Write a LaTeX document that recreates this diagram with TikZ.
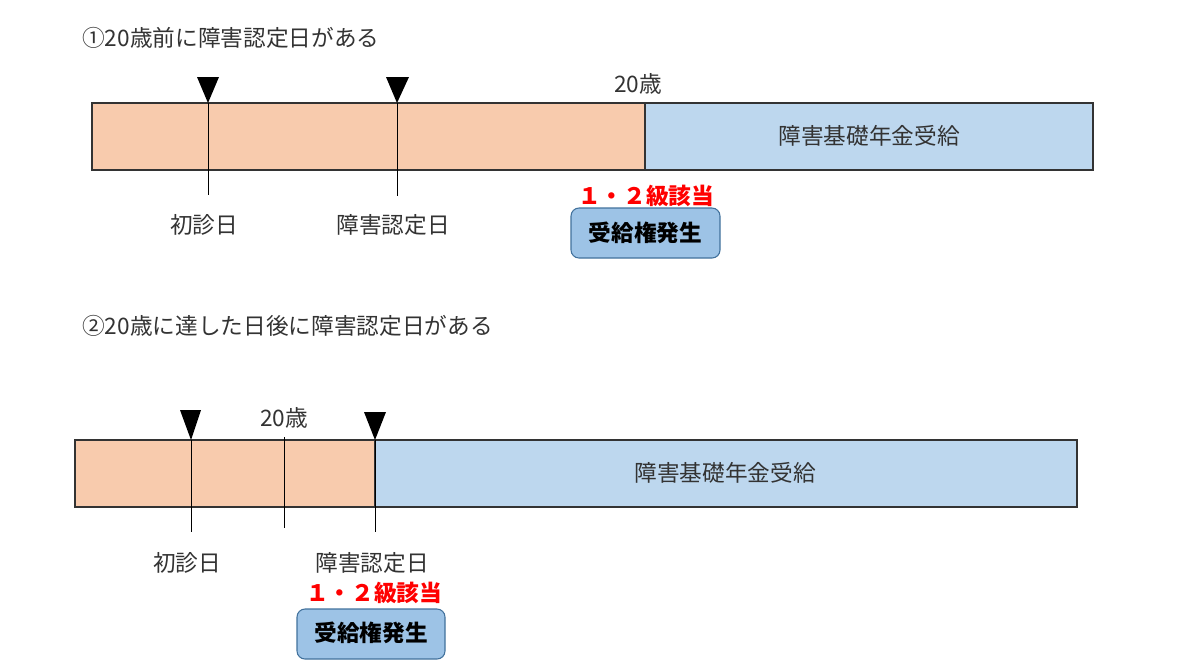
\documentclass[tikz,border=0pt]{standalone}
\usepackage{fontspec}
\setmainfont{Noto Sans CJK JP}
\definecolor{orangebar}{HTML}{F8CBAD}
\definecolor{bluebar}{HTML}{BDD7EE}
\definecolor{boxfill}{HTML}{9DC3E6}
\definecolor{boxdraw}{HTML}{41719C}
\definecolor{txt}{HTML}{333333}
\tikzset{
  lbl/.style={text=txt,font=\fontsize{17}{20}\selectfont,inner sep=0pt},
  redlbl/.style={text=red,font=\fontsize{17}{20}\selectfont\bfseries,inner sep=0pt},
  bar/.style={draw=black!80,line width=0.8pt},
  tick/.style={draw=black,line width=0.7pt},
  tri/.style={fill=black},
  rightsbox/.style={draw=boxdraw,fill=boxfill,rounded corners=6pt,line width=0.8pt},
  rightstxt/.style={font=\fontsize{17}{20}\selectfont\bfseries,text=black,inner sep=0pt},
}
\begin{document}
\begin{tikzpicture}[x=0.75pt,y=-0.75pt]
\useasboundingbox (0,0) rectangle (1200,662);
% ---------- diagram 1 ----------
\node[lbl,anchor=west] (t1) at (82,38) {①20歳前に障害認定日がある};
\fill[orangebar] (92,103) rectangle (645,170);
\fill[bluebar] (645,103) rectangle (1093,170);
\draw[bar] (92,103) rectangle (1093,170);
\draw[bar] (645,103) -- (645,170);
\node[lbl] (b1) at (869,136) {障害基礎年金受給};
\coordinate (a1) at (208,103);
\coordinate (a1b) at (208,195);
\coordinate (a2) at (397,103);
\coordinate (a2b) at (397,196);
\draw[tick] (a1) -- (a1b);
\draw[tick] (a2) -- (a2b);
\fill[tri] (197,77) -- (219,77) -- (a1) -- cycle;
\fill[tri] (386,77) -- (409,77) -- (a2) -- cycle;
\node[lbl] (age1) at (638,84) {20歳};
\node[lbl] (s1) at (204,225) {初診日};
\node[lbl] (n1) at (393,225) {障害認定日};
\node[redlbl] (g1) at (646,196) {１・２級該当};
\draw[rightsbox] (571,208) rectangle (720,258);
\node[rightstxt] (r1) at (645.5,233) {受給権発生};
% ---------- diagram 2 ----------
\node[lbl,anchor=west] (t2) at (82,326) {②20歳に達した日後に障害認定日がある};
\fill[orangebar] (75,440) rectangle (375,507);
\fill[bluebar] (375,440) rectangle (1077,507);
\draw[bar] (75,440) rectangle (1077,507);
\draw[bar] (375,440) -- (375,507);
\node[lbl] (b2) at (725,473) {障害基礎年金受給};
\coordinate (c1) at (191,440);
\coordinate (c1b) at (191,532);
\coordinate (c2) at (284,437);
\coordinate (c2b) at (284,528);
\coordinate (c3) at (375,440);
\coordinate (c3b) at (375,532);
\draw[tick] (c1) -- (c1b);
\draw[tick] (c2) -- (c2b);
\draw[tick] (c3) -- (c3b);
\fill[tri] (180,410) -- (201,410) -- (c1) -- cycle;
\fill[tri] (364,412) -- (386,412) -- (c3) -- cycle;
\node[lbl] (age2) at (284,418) {20歳};
\node[lbl] (s2) at (187,563) {初診日};
\node[lbl] (n2) at (372,563) {障害認定日};
\node[redlbl] (g2) at (374,593) {１・２級該当};
\draw[rightsbox] (297,609) rectangle (445,659);
\node[rightstxt] (r2) at (371,633) {受給権発生};
\end{tikzpicture}
\end{document}
